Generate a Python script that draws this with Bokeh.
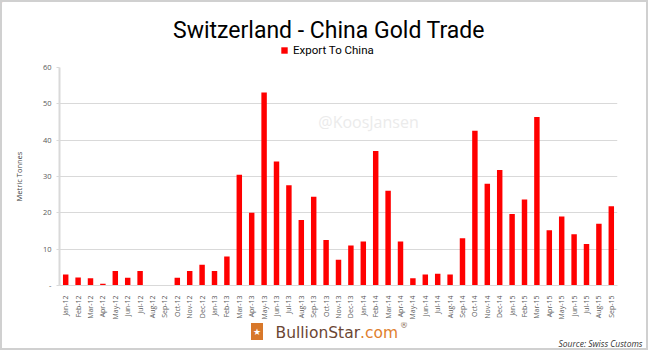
from bokeh.plotting import figure
from bokeh.models import Label, Legend, LegendItem, FixedTicker, Range1d
from bokeh.layouts import column
from bokeh.embed import file_html
from bokeh.resources import INLINE
import math

months = ["Jan-12", "Feb-12", "Mar-12", "Apr-12", "May-12", "Jun-12", "Jul-12", "Aug-12",
          "Sep-12", "Oct-12", "Nov-12", "Dec-12",
          "Jan-13", "Feb-13", "Mar-13", "Apr-13", "May-13", "Jun-13", "Jul-13", "Aug-13",
          "Sep-13", "Oct-13", "Nov-13", "Dec-13",
          "Jan-14", "Feb-14", "Mar-14", "Apr-14", "May-14", "Jun-14", "Jul-14", "Aug-14",
          "Sep-14", "Oct-14", "Nov-14", "Dec-14",
          "Jan-15", "Feb-15", "Mar-15", "Apr-15", "May-15", "Jun-15", "Jul-15", "Aug-15",
          "Sep-15"]
export_to_china = [3.0, 2.2, 2.0, 0.5, 4.0, 2.1, 4.0, 0.0, 0.0, 2.1, 4.0, 5.7,
                   4.0, 8.0, 30.5, 20.0, 53.1, 34.1, 27.6, 18.0, 24.4, 12.5, 7.1, 11.0,
                   12.1, 37.0, 26.1, 12.1, 2.0, 3.0, 3.2, 3.0, 13.0, 42.6, 28.0, 31.8,
                   19.7, 23.7, 46.4, 15.2, 19.0, 14.1, 11.4, 17.0, 21.8]
y_ticks = [0, 10, 20, 30, 40, 50, 60]

FONT = "Open Sans"
TFONT = "Roboto"
BAR_RED = "#ff0000"

# canvas geometry (reference pixels); a 2px border surrounds the content
X0, X1 = 2, 646
TOP_Y0, TOP_Y1 = 2, 59
MAIN_Y0, MAIN_Y1 = 59, 322
FL, FR, FT, FB = 59, 617, 67, 285
BOT_Y0, BOT_Y1 = 322, 348
CW = X1 - X0


def no_title(f):
    try:
        f.title = None
    except Exception:
        f.title.visible = False


def deco_fig(y0, y1):
    f = figure(width=CW, height=y1 - y0, x_range=Range1d(X0, X1), y_range=Range1d(y1, y0),
               output_backend="svg", toolbar_location=None,
               x_axis_type=None, y_axis_type=None,
               min_border=0, min_border_left=0, min_border_right=0,
               min_border_top=0, min_border_bottom=0,
               background_fill_color="white", border_fill_color="white")
    no_title(f)
    f.outline_line_color = None
    f.grid.visible = False
    try:
        f.frame_align = False
    except Exception:
        pass
    return f


def lab(f, text, x, y, size, color, align="left", baseline="middle", font=FONT,
        style="normal", **kw):
    f.add_layout(Label(x=x, y=y, text=text, text_align=align, text_baseline=baseline,
                       text_font=font, text_font_size=size, text_color=color,
                       text_font_style=style, **kw))


# ---------- top: title + legend ----------
top = deco_fig(TOP_Y0, TOP_Y1)
lab(top, "Switzerland - China Gold Trade", 328.5, 30, "23px", "#000000", align="center",
    font=TFONT)
# zero-height, off-range bar: only used to give the legend its red swatch
swatch = top.vbar(x=[X0 - 50], top=[0], width=1, fill_color=BAR_RED, line_color=None)
legend = Legend(items=[LegendItem(label="Export To China", renderers=[swatch])],
                location=(280 - X0, TOP_Y1 - 57), orientation="horizontal",
                padding=0, margin=0, spacing=0, border_line_color=None,
                background_fill_alpha=0, glyph_width=8, glyph_height=8,
                label_height=8, label_standoff=5,
                label_text_font=TFONT, label_text_font_size="11.5px",
                label_text_color="#000000")
top.add_layout(legend)

# ---------- main chart ----------
p = figure(width=CW, height=MAIN_Y1 - MAIN_Y0, x_range=months, y_range=(0, 60),
           output_backend="svg", toolbar_location=None,
           min_border_left=FL - X0, min_border_right=X1 - FR,
           min_border_top=FT - MAIN_Y0, min_border_bottom=MAIN_Y1 - FB,
           background_fill_color="white", border_fill_color="white")
no_title(p)
p.outline_line_color = None
p.x_range.range_padding = 0

p.vbar(x=months, top=export_to_china, width=0.44, fill_color=BAR_RED, line_color=None)

p.yaxis.ticker = FixedTicker(ticks=y_ticks)
p.yaxis.major_label_overrides = {0: "-"}
p.yaxis.axis_line_color = "#d9d9d9"
p.yaxis.axis_line_width = 2
p.yaxis.major_tick_line_color = "#d9d9d9"
p.yaxis.major_tick_out = 3
p.yaxis.major_tick_in = 0
p.yaxis.minor_tick_line_color = None
p.yaxis.major_label_text_font = FONT
p.yaxis.major_label_text_font_size = "7.5px"
p.yaxis.major_label_text_color = "#595959"
p.yaxis.major_label_standoff = 5
p.yaxis.axis_label = "Metric Tonnes"
p.yaxis.axis_label_text_font = FONT
p.yaxis.axis_label_text_font_size = "7.5px"
p.yaxis.axis_label_text_font_style = "normal"
p.yaxis.axis_label_text_color = "#404040"
p.yaxis.axis_label_standoff = 16

p.xaxis.axis_line_color = "#d9d9d9"
p.xaxis.axis_line_width = 1
p.xaxis.major_tick_line_color = None
p.xaxis.major_label_orientation = math.pi / 2
p.xaxis.major_label_text_font = FONT
p.xaxis.major_label_text_font_size = "7px"
p.xaxis.major_label_text_color = "#595959"
p.xaxis.major_label_standoff = 4

p.xgrid.grid_line_color = None
p.ygrid.grid_line_color = "#d9d9d9"
p.ygrid.grid_line_width = 1

# watermark (frame-relative screen units)
p.add_layout(Label(x=368 - FL, y=FB - 121, x_units="screen", y_units="screen",
                   text="@KoosJansen", text_align="center", text_baseline="middle",
                   text_font=FONT, text_font_size="16px", text_color="#ebebeb"))

# ---------- bottom: logo + source ----------
bot = deco_fig(BOT_Y0, BOT_Y1)
lab(bot, "\u2605", 256.5, 331, "9px", "#ffffff", align="center",
    background_fill_color="#d8782a", padding=2)
lab(bot, "BullionStar", 359.5, 332, "15.5px", "#6b4633", align="right", font="DejaVu Sans")
lab(bot, ".com", 359.5, 332, "15.5px", "#e07f2e", align="left", font="DejaVu Sans")
lab(bot, "\u00ae", 399.5, 325, "8px", "#8a6a55", align="left", font="DejaVu Sans")
lab(bot, "Source: Swiss Customs", 642, 342.5, "8.5px", "#333333", align="right", style="italic")

layout = column(top, p, bot, spacing=0, styles={"border": "2px solid #d0d0d0"})

open("out.html", "w").write(file_html(layout, INLINE))
